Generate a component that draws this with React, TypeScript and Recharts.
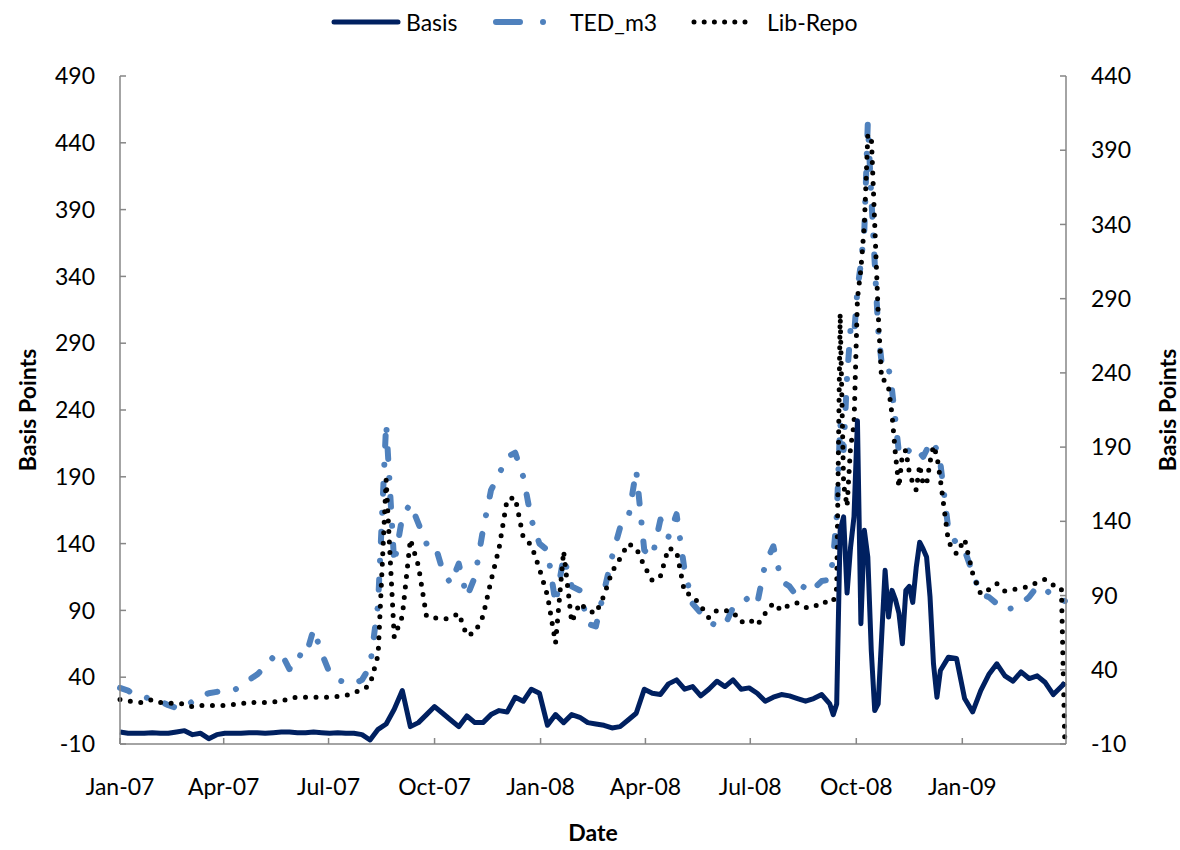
import { Line, LineChart, XAxis, YAxis } from "recharts";

// sampling grid: weekly, every 3 days through the Sep-Dec 2008 turmoil, weekly again
const sampleRanges: [string, string, number][] = [
  ["2007-01-01", "2008-09-08", 7],
  ["2008-09-11", "2008-12-13", 3],
  ["2008-12-20", "2009-03-28", 7],
  ["2009-03-31", "2009-03-31", 1],
];

const basis = [
  -1, -2, -2, -2, -1.5, -2, -2, -1, 0, -3, -2, -6, -3, -2, -2, -2, -1.5, -1.5, -2, -1.5,
  -1, -1, -1.5, -1.5, -1, -1.5, -2, -1.5, -2, -2, -3, -7, 1, 5, 16, 30, 3, 6, 12, 18,
  13, 8, 3, 11, 6, 6, 12, 15, 14, 25, 22, 31, 28, 4, 12, 6, 12, 10, 6, 5,
  4, 2, 3, 8, 13, 31, 28, 27, 35, 38, 31, 33, 26, 31, 37, 33, 38, 31, 32, 28,
  22, 25, 27, 26, 24, 22, 24, 27, 20,
  12, 20, 150, 160, 103, 137, 160, 232, 80, 150, 130, 60, 15, 20, 70, 120, 85, 105, 98, 88,
  65, 105, 108, 96, 122, 141, 136, 130, 100, 50, 25, 45,
  55, 54, 24, 14, 30, 42, 50, 41, 37, 44, 39, 41, 36, 27, 33, 36,
];

const tedM3 = [
  32, 30, 26, 25, 24, 22, 19, 17, 17, 22, 26, 28, 29, 30, 30, 33, 38, 42, 48, 55,
  58, 46, 57, 55, 76, 58, 43, 38, 36, 35, 38, 48, 95, 230, 125, 160, 170, 155, 140, 140,
  120, 110, 125, 100, 115, 150, 180, 192, 205, 208, 190, 158, 140, 135, 95, 130, 108, 105, 80, 78,
  104, 130, 152, 158, 195, 135, 130, 158, 145, 162, 120, 95, 88, 82, 78, 79, 92, 95, 100, 95,
  125, 138, 112, 108, 100, 110, 106, 112, 113,
  130, 160, 230, 210, 265, 300, 295, 330, 350, 375, 455, 400, 350, 300, 275, 270, 272, 255, 232, 208,
  205, 207, 210, 207, 205, 208, 205, 210, 217, 215, 210, 200,
  150, 140, 135, 118, 102, 100, 95, 90, 92, 95, 100, 108, 106, 100, 98, 97,
];

const libRepo = [
  20, 19, 18, 18, 20, 18, 17.5, 17.5, 17, 15, 16, 16, 16, 16, 16.5, 17, 18.5, 17.5, 18, 18.5,
  18.5, 21, 21.5, 21.5, 21.5, 21.5, 21.5, 22, 22.5, 25, 26, 30, 50, 168, 62, 76, 128, 110, 76, 75,
  74, 75, 78, 63, 65, 76, 100, 122, 155, 156, 129, 124, 108, 90, 58, 120, 72, 85, 80, 78,
  90, 106, 115, 125, 122, 110, 100, 103, 122, 120, 92, 90, 83, 75, 80, 80, 79, 72, 74, 70,
  78, 85, 80, 84, 85, 82, 82, 86, 85,
  86, 95, 280, 165, 150, 190, 205, 290, 310, 340, 400, 400, 340, 280, 235, 235, 230, 212, 185, 163,
  185, 188, 173, 166, 161, 178, 165, 165, 180, 191, 184, 168,
  126, 118, 128, 105, 91, 94, 98, 93, 94, 95, 96, 99, 101, 97, 95, -10,
];

const quarterTicks = [
  "2007-01-01", "2007-04-01", "2007-07-01", "2007-10-01", "2008-01-01",
  "2008-04-01", "2008-07-01", "2008-10-01", "2009-01-01",
];
const leftTicks = [-10, 40, 90, 140, 190, 240, 290, 340, 390, 440, 490];
const rightTicks = [-10, 40, 90, 140, 190, 240, 290, 340, 390, 440];

const NAVY = "#002060";
const BLUE = "#4f81bd";
const AXIS = "#868686";
const FONT = "Lato, 'Open Sans', sans-serif";
const MONTHS = ["Jan", "Feb", "Mar", "Apr", "May", "Jun", "Jul", "Aug", "Sep", "Oct", "Nov", "Dec"];
const DAY = 86400000;

const toMs = (s: string) => Date.parse(`${s}T00:00:00Z`);

function sampleDates() {
  const out: number[] = [];
  for (const [from, to, step] of sampleRanges) {
    for (let t = toMs(from); t <= toMs(to); t += step * DAY) out.push(t);
  }
  return out;
}

const data = sampleDates().map((t, i) => ({
  t,
  basis: basis[i],
  ted: tedM3[i],
  lib: libRepo[i],
}));

const formatQuarter = (t: number) => {
  const d = new Date(t);
  return `${MONTHS[d.getUTCMonth()]}-${String(d.getUTCFullYear()).slice(2)}`;
};

const tickStyle = { fill: "#000", fontSize: 23, fontFamily: FONT };
const titleStyle = { fill: "#000", fontSize: 23, fontWeight: 700, fontFamily: FONT };

function ChartLegend() {
  const text = { fontSize: 23, fontFamily: FONT, fill: "#000" };
  return (
    <svg width={1180} height={50} style={{ position: "absolute", left: 0, top: 0 }}>
      <line x1={334} y1={22} x2={398} y2={22} stroke={NAVY} strokeWidth={5} strokeLinecap="round" />
      <text x={406} y={31} {...text}>Basis</text>
      <line
        x1={496} y1={22} x2={560} y2={22}
        stroke={BLUE} strokeWidth={6} strokeLinecap="round" strokeDasharray="24 23 0.01 100"
      />
      <text x={570} y={31} {...text}>TED_m3</text>
      <line
        x1={694} y1={22} x2={750} y2={22}
        stroke="#000" strokeWidth={5} strokeLinecap="round" strokeDasharray="0 10.2"
      />
      <text x={767} y={31} {...text}>Lib-Repo</text>
    </svg>
  );
}

export default function App() {
  return (
    <div style={{ position: "absolute", left: 0, top: 0, width: 1180, height: 850, background: "#fff" }}>
      <LineChart width={1180} height={850} data={data} margin={{ top: 76, right: 0, bottom: 0, left: 0 }}>
        <XAxis
          dataKey="t"
          type="number"
          domain={[toMs("2007-01-01"), toMs("2009-04-01")]}
          ticks={quarterTicks.map(toMs)}
          tickFormatter={formatQuarter}
          interval={0}
          height={106}
          tickSize={-6}
          tickMargin={41}
          axisLine={{ stroke: AXIS, strokeWidth: 1.5 }}
          tickLine={{ stroke: AXIS, strokeWidth: 1.5 }}
          tick={tickStyle}
          label={{ value: "Date", position: "insideBottom", offset: 9, style: titleStyle }}
        />
        <YAxis
          yAxisId="left"
          domain={[-10, 490]}
          ticks={leftTicks}
          interval={0}
          allowDataOverflow
          width={120}
          tickSize={-6}
          tickMargin={31}
          axisLine={{ stroke: AXIS, strokeWidth: 1.5 }}
          tickLine={{ stroke: AXIS, strokeWidth: 1.5 }}
          tick={tickStyle}
          label={{
            value: "Basis Points",
            angle: -90,
            position: "insideLeft",
            offset: 28,
            style: { ...titleStyle, textAnchor: "middle" },
          }}
        />
        <YAxis
          yAxisId="right"
          orientation="right"
          domain={[-10, 440]}
          ticks={rightTicks}
          interval={0}
          allowDataOverflow
          width={114}
          tickSize={-6}
          tickMargin={31}
          axisLine={{ stroke: AXIS, strokeWidth: 1.5 }}
          tickLine={{ stroke: AXIS, strokeWidth: 1.5 }}
          tick={tickStyle}
          label={{
            value: "Basis Points",
            angle: -90,
            position: "insideRight",
            offset: 12,
            style: { ...titleStyle, textAnchor: "middle" },
          }}
        />
        <Line
          yAxisId="left"
          type="linear"
          dataKey="ted"
          stroke={BLUE}
          strokeWidth={6}
          strokeLinecap="round"
          strokeLinejoin="round"
          strokeDasharray="10 19 0.01 19"
          dot={false}
          activeDot={false}
          isAnimationActive={false}
        />
        <Line
          yAxisId="right"
          type="linear"
          dataKey="lib"
          stroke="#000"
          strokeWidth={5}
          strokeLinecap="round"
          strokeDasharray="0 10.5"
          dot={false}
          activeDot={false}
          isAnimationActive={false}
        />
        <Line
          yAxisId="left"
          type="linear"
          dataKey="basis"
          stroke={NAVY}
          strokeWidth={5}
          strokeLinejoin="round"
          dot={false}
          activeDot={false}
          isAnimationActive={false}
        />
      </LineChart>
      <ChartLegend />
    </div>
  );
}
